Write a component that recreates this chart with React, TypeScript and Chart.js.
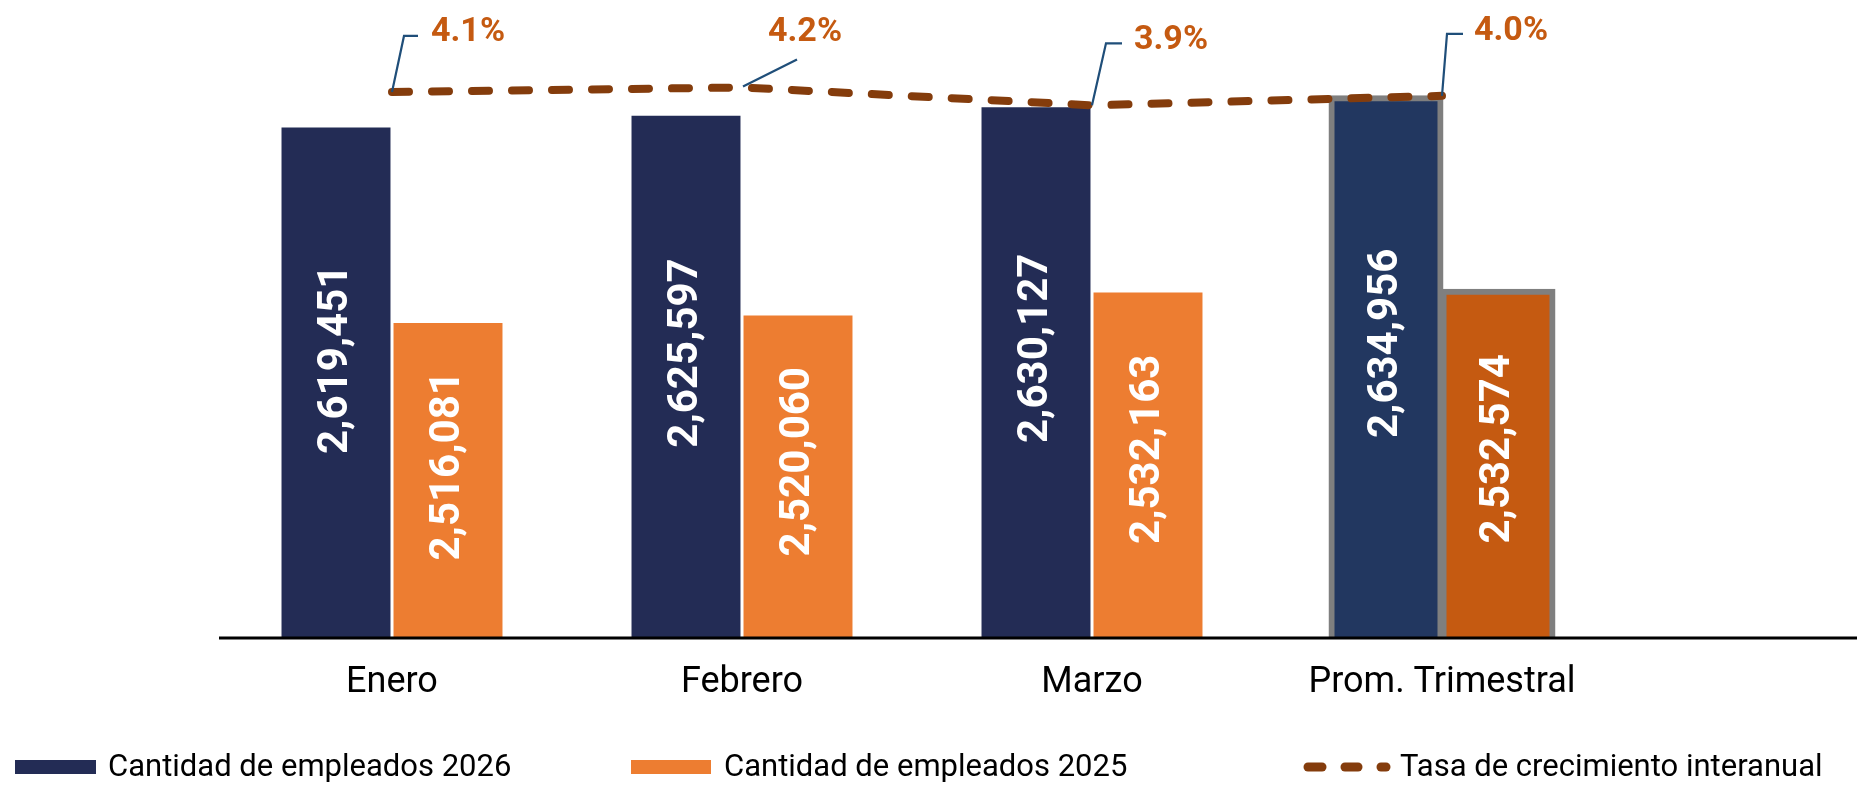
import React, { useEffect, useRef } from "react";
import { Chart, registerables } from "chart.js";

Chart.register(...registerables);

const categories = ["Enero", "Febrero", "Marzo", "Prom. Trimestral"];
const empleados2026 = [2619451, 2625597, 2630127, 2634956];
const empleados2025 = [2516081, 2520060, 2532163, 2532574];
const tasaCrecimiento = [4.11, 4.19, 3.87, 4.04];
const seriesNames = [
  "Cantidad de empleados 2026",
  "Cantidad de empleados 2025",
  "Tasa de crecimiento interanual",
];

const NAVY = "#232C55";
const NAVY_AVG = "#223760";
const ORANGE = "#ED7D31";
const ORANGE_AVG = "#C55A11";
const LINE = "#843C0C";
const LABEL_ORANGE = "#C55A11";
const LEADER = "#1F4E79";
const GREY = "#7F7F7F";
const FONT = "Roboto, 'Noto Sans', sans-serif";

// leader-line geometry relative to each line point (style only)
const leaderStyle = [
  { path: [[0, 0], [12, -56], [26, -56]], label: [39, -59] },
  { path: [[1, -1], [55, -28]], label: [26, -55] },
  { path: [[0, 0], [14, -62], [30, -62]], label: [42, -65] },
  { path: [[0, 0], [5, -62], [21, -62]], label: [32, -64] },
];

const fmtInt = (v: number) => String(v).replace(/\B(?=(\d{3})+(?!\d))/g, ",");

const barLabelPlugin = {
  id: "barLabels",
  afterDatasetsDraw(chart: any) {
    const ctx = chart.ctx;
    const bottom = chart.chartArea.bottom;
    [0, 1].forEach((di) => {
      const meta = chart.getDatasetMeta(di);
      const values = chart.data.datasets[di].data as number[];
      meta.data.forEach((el: any, i: number) => {
        const p = el.getProps(["x", "y", "base"], true);
        const top = p.y;
        const base = Math.min(p.base, bottom);
        const cy = top + (base - top) * 0.455;
        ctx.save();
        ctx.fillStyle = "#FFFFFF";
        ctx.font = `bold 42px ${FONT}`;
        ctx.textAlign = "center";
        ctx.textBaseline = "middle";
        ctx.translate(p.x, cy);
        ctx.rotate(-Math.PI / 2);
        ctx.fillText(fmtInt(values[i]), 0, 0);
        ctx.restore();
      });
    });

    const meta = chart.getDatasetMeta(2);
    const rates = chart.data.datasets[2].data as number[];
    meta.data.forEach((el: any, i: number) => {
      const px = el.x;
      const py = el.y;
      const st = leaderStyle[i];
      ctx.save();
      ctx.beginPath();
      ctx.strokeStyle = LEADER;
      ctx.lineWidth = 2.2;
      st.path.forEach((pt, k) => {
        const x = px + pt[0];
        const y = py + pt[1];
        if (k === 0) ctx.moveTo(x, y);
        else ctx.lineTo(x, y);
      });
      ctx.stroke();
      ctx.fillStyle = LABEL_ORANGE;
      ctx.font = `bold 34px ${FONT}`;
      ctx.textAlign = "left";
      ctx.textBaseline = "middle";
      ctx.fillText(rates[i].toFixed(1) + "%", px + st.label[0], py + st.label[1]);
      ctx.restore();
    });
  },
};

const axisLinePlugin = {
  id: "axisLine",
  afterDatasetsDraw(chart: any) {
    const { ctx, chartArea } = chart;
    ctx.save();
    ctx.strokeStyle = "#000000";
    ctx.lineWidth = 3;
    ctx.beginPath();
    ctx.moveTo(chartArea.left + 2, chartArea.bottom + 1);
    ctx.lineTo(chart.width, chartArea.bottom + 1);
    ctx.stroke();
    ctx.restore();
  },
};

const legendPlugin = {
  id: "customLegend",
  afterDraw(chart: any) {
    const ctx = chart.ctx;
    const y = 767;
    ctx.save();
    ctx.font = `31px ${FONT}`;
    ctx.textBaseline = "middle";
    ctx.textAlign = "left";
    const ds = chart.data.datasets;
    ctx.fillStyle = NAVY;
    ctx.fillRect(15, y - 7, 81, 14);
    ctx.fillStyle = "#000";
    ctx.fillText(ds[0].label, 108, y + 1);
    ctx.fillStyle = ORANGE;
    ctx.fillRect(631, y - 7, 80, 14);
    ctx.fillStyle = "#000";
    ctx.fillText(ds[1].label, 724, y + 1);
    ctx.strokeStyle = LINE;
    ctx.lineWidth = 9;
    ctx.lineCap = "round";
    [[1308, 1322], [1345, 1358], [1381, 1386]].forEach(([a, b]) => {
      ctx.beginPath();
      ctx.moveTo(a, y);
      ctx.lineTo(b, y);
      ctx.stroke();
    });
    ctx.fillStyle = "#000";
    ctx.fillText(ds[2].label, 1400, y + 1);
    ctx.restore();
  },
};

export default function App() {
  const ref = useRef<HTMLCanvasElement | null>(null);
  useEffect(() => {
    document.body.style.margin = "0";
    const canvas = ref.current;
    if (!canvas) return;
    const chart = new Chart(canvas, {
      type: "bar",
      data: {
        labels: categories,
        datasets: [
          {
            label: seriesNames[0],
            data: empleados2026,
            yAxisID: "y",
            backgroundColor: empleados2026.map((_, i) => (i === 3 ? NAVY_AVG : NAVY)),
            borderColor: GREY,
            borderWidth: empleados2026.map((_, i) => (i === 3 ? 6 : 0)),
            borderSkipped: false,
            inflateAmount: empleados2026.map((_, i) => (i === 3 ? 3 : 0)),
            order: 1,
          } as any,
          {
            label: seriesNames[1],
            data: empleados2025,
            yAxisID: "y",
            backgroundColor: empleados2025.map((_, i) => (i === 3 ? ORANGE_AVG : ORANGE)),
            borderColor: GREY,
            borderWidth: empleados2025.map((_, i) => (i === 3 ? 6 : 0)),
            borderSkipped: false,
            inflateAmount: empleados2025.map((_, i) => (i === 3 ? 3 : 0)),
            order: 2,
          } as any,
          {
            type: "line",
            label: seriesNames[2],
            data: tasaCrecimiento,
            yAxisID: "y1",
            borderColor: LINE,
            borderWidth: 8,
            borderDash: [17, 23],
            borderCapStyle: "round",
            pointRadius: 0,
            tension: 0,
            fill: false,
            order: 0,
            clip: false,
          } as any,
        ],
      },
      options: {
        responsive: false,
        animation: false,
        devicePixelRatio: 1,
        layout: { padding: { top: 13, left: 217, right: 240, bottom: 49 } },
        plugins: {
          legend: { display: false },
          tooltip: { enabled: false },
        },
        datasets: {
          bar: { categoryPercentage: 0.64, barPercentage: 0.973 },
        },
        scales: {
          x: {
            grid: { display: false, drawTicks: false },
            border: { display: false },
            ticks: {
              color: "#000",
              font: { family: FONT, size: 36 },
              padding: 24,
            },
            afterFit: (scale: any) => {
              scale.height = 100;
            },
          },
          y: { display: false, min: 2350000, max: 2680000 },
          y1: { display: false, min: -5.66, max: 5.525 },
        },
      } as any,
      plugins: [axisLinePlugin, barLabelPlugin, legendPlugin],
    });
    return () => chart.destroy();
  }, []);
  return (
    <div style={{ width: 1857, height: 786 }}>
      <canvas ref={ref} width={1857} height={786} style={{ display: "block" }} />
    </div>
  );
}
